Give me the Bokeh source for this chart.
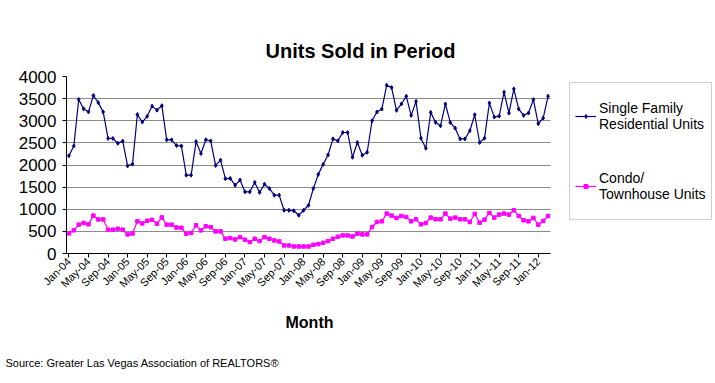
from math import pi
from bokeh.plotting import figure
from bokeh.models import (FixedTicker, Legend, LegendItem, ColumnDataSource,
                          Range1d, Title)
from bokeh.embed import file_html
from bokeh.resources import INLINE

MONTH_NAMES = ["Jan", "Feb", "Mar", "Apr", "May", "Jun",
               "Jul", "Aug", "Sep", "Oct", "Nov", "Dec"]
YEARS = [4, 5, 6, 7, 8, 9, 10, 11, 12]
months = [f"{m}-{y:02d}" for y in YEARS for m in MONTH_NAMES][:99]

single_family = [
    2210, 2430, 3480, 3270, 3200, 3570, 3410, 3200, 2600, 2600, 2490, 2540,
    1980, 2020, 3140, 2970, 3100, 3330, 3240, 3340, 2570, 2570, 2440, 2430,
    1770, 1770, 2530, 2260, 2570, 2545, 1990, 2110, 1690, 1697, 1545, 1659,
    1394, 1394, 1606, 1380, 1568, 1470, 1318, 1318, 977, 977, 965, 864,
    977, 1090, 1470, 1788, 2015, 2227, 2590, 2545, 2735, 2735, 2174, 2508,
    2220, 2288, 3000, 3197, 3265, 3803, 3750, 3235, 3379, 3553, 3121, 3439,
    2606, 2379, 3189, 2962, 2886, 3379, 2962, 2833, 2590, 2590, 2773, 3136,
    2508, 2606, 3401, 3083, 3106, 3644, 3174, 3720, 3265, 3121, 3174, 3477,
    2932, 3061, 3553,
]
condo = [
    455, 523, 652, 689, 659, 856, 770, 770, 538, 538, 561, 538,
    432, 450, 727, 680, 740, 760, 674, 815, 652, 652, 587, 580,
    447, 466, 636, 523, 614, 595, 500, 500, 335, 348, 318, 371,
    311, 258, 333, 280, 371, 333, 295, 273, 182, 182, 159, 159,
    159, 159, 197, 212, 242, 280, 333, 379, 409, 409, 386, 447,
    432, 432, 598, 712, 727, 902, 856, 803, 848, 826, 727, 773,
    659, 689, 811, 773, 773, 902, 788, 811, 773, 773, 712, 894,
    697, 765, 917, 811, 879, 902, 879, 977, 848, 750, 727, 803,
    652, 735, 848,
]
tick_positions = list(range(0, len(months), 4))
tick_labels = [months[i] for i in tick_positions]
y_ticks = list(range(0, 4001, 500))

FONT = "Liberation Sans"
N = len(months)

# layout: data area 484px wide, frame extended to the right to host the legend
FIG_W, FIG_H = 712, 383
LEFT = 66
TOP = 76
BOTTOM_Y = 253
DATA_PX = 484
FRAME_W = FIG_W - LEFT
x_end = -0.5 + N * FRAME_W / DATA_PX

src = ColumnDataSource(data=dict(x=list(range(N)), sf=single_family, condo=condo))

p = figure(width=FIG_W, height=FIG_H, output_backend="svg", toolbar_location=None,
           x_range=Range1d(-0.5, x_end), y_range=Range1d(0, 4000),
           min_border_left=LEFT, min_border_right=0, min_border_top=TOP,
           min_border_bottom=FIG_H - BOTTOM_Y)
p.outline_line_color = None
p.background_fill_color = "white"
p.border_fill_color = "white"

# axes
p.yaxis.ticker = FixedTicker(ticks=y_ticks)
p.yaxis.major_label_text_font = FONT
p.yaxis.major_label_text_font_size = "17px"
p.yaxis.major_label_text_color = "black"
p.yaxis.axis_line_color = "black"
p.yaxis.major_tick_line_color = "black"
p.yaxis.major_tick_out = 4
p.yaxis.major_tick_in = 0
p.yaxis.minor_tick_line_color = None
p.yaxis.major_label_standoff = 6

p.xaxis.ticker = FixedTicker(ticks=tick_positions)
p.xaxis.bounds = (-0.5, N - 0.5)
p.xaxis.major_label_overrides = {i: lab for i, lab in zip(tick_positions, tick_labels)}
p.xaxis.major_label_orientation = pi / 4
p.xaxis.major_label_text_font = FONT
p.xaxis.major_label_text_font_size = "11px"
p.xaxis.major_label_text_color = "black"
p.xaxis.axis_line_color = "black"
p.xaxis.major_tick_line_color = "black"
p.xaxis.major_tick_out = 4
p.xaxis.major_tick_in = 0
p.xaxis.minor_tick_line_color = None
p.xaxis.major_label_standoff = 2

p.xgrid.grid_line_color = None
grid_ok = True
try:
    p.ygrid.cross_bounds = (-0.5, N - 0.5)
except AttributeError:
    grid_ok = False
if grid_ok:
    p.ygrid.grid_line_color = "#8c8c8c"
    p.ygrid.grid_line_width = 1
else:
    p.ygrid.grid_line_color = None
    p.segment(x0=[-0.5] * len(y_ticks), x1=[N - 0.5] * len(y_ticks),
              y0=y_ticks, y1=y_ticks, line_color="#8c8c8c", line_width=1)

# series
sf_line = p.line("x", "sf", source=src, line_color="#000080", line_width=1.2)
sf_pts = p.scatter("x", "sf", source=src, marker="diamond", size=4,
                   fill_color="#000080", line_color="#000080")
co_line = p.line("x", "condo", source=src, line_color="#FF00FF", line_width=1.2)
co_pts = p.scatter("x", "condo", source=src, marker="square", size=3.5,
                   fill_color="#FF00FF", line_color="#FF00FF")

legend = Legend(items=[
    LegendItem(label="Single Family\nResidential Units", renderers=[sf_line, sf_pts]),
    LegendItem(label="Condo/\nTownhouse Units", renderers=[co_line, co_pts]),
], location=(503, 33))
legend.border_line_color = "#a0a0a0"
legend.border_line_width = 1
legend.background_fill_color = "white"
legend.background_fill_alpha = 1
legend.label_text_font = FONT
legend.label_text_font_size = "14px"
legend.label_text_color = "black"
legend.glyph_width = 21
legend.glyph_height = 10
legend.label_height = 56
legend.label_standoff = 3
legend.padding = 5
legend.spacing = 14
legend.margin = 0
p.add_layout(legend, "center")

# above: the title, then an invisible spacer
p.add_layout(Title(text="Units Sold in Period", text_font=FONT, text_font_size="20px",
                   text_font_style="bold", text_color="black", align="left",
                   offset=199, standoff=30), "above")
p.add_layout(Title(text=".", text_font=FONT, text_font_size="10px", text_alpha=0,
                   standoff=7), "above")
p.add_layout(Title(text="Month", text_font=FONT, text_font_size="16px",
                   text_font_style="bold", text_color="black", align="left",
                   offset=219, standoff=30), "below")
p.add_layout(Title(text="Source: Greater Las Vegas Association of REALTORS\u00ae",
                   text_font=FONT, text_font_size="11px", text_font_style="normal",
                   text_color="black", align="left", offset=-61, standoff=19), "below")

open("out.html", "w").write(file_html(p, INLINE))
